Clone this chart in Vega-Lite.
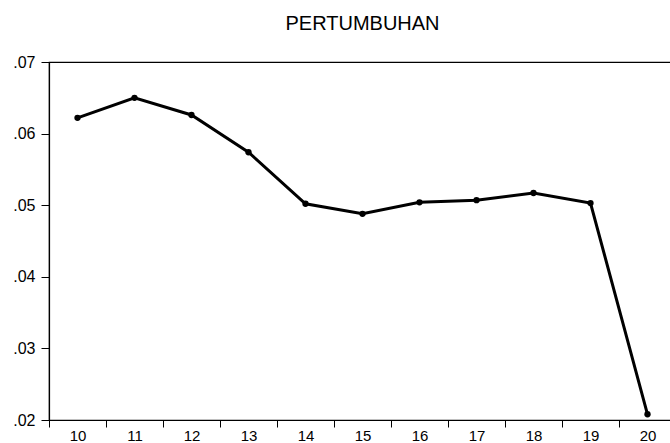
{
  "$schema": "https://vega.github.io/schema/vega-lite/v6.json",
  "autosize": "none",
  "padding": {"left": 49, "top": 62, "right": 0, "bottom": 23},
  "width": 627,
  "height": 358,
  "background": "white",
  "config": {
    "font": "Liberation Sans",
    "view": {"stroke": "black", "strokeWidth": 1.2},
    "axis": {"grid": false, "domainColor": "black", "tickColor": "black", "labelColor": "black", "labelFontSize": 16, "labelFont": "Liberation Sans", "domainWidth": 1.2, "tickWidth": 1}
  },
  "title": {"text": "PERTUMBUHAN", "fontSize": 20, "fontWeight": "normal", "font": "Liberation Sans", "color": "black", "offset": 20, "anchor": "middle"},
  "data": {"values": [
    {"year": 10, "value": 0.0622},
    {"year": 11, "value": 0.0650},
    {"year": 12, "value": 0.0626},
    {"year": 13, "value": 0.0574},
    {"year": 14, "value": 0.0502},
    {"year": 15, "value": 0.0488},
    {"year": 16, "value": 0.0504},
    {"year": 17, "value": 0.0507},
    {"year": 18, "value": 0.0517},
    {"year": 19, "value": 0.0503},
    {"year": 20, "value": 0.0208}
  ]},
  "encoding": {
    "x": {"field": "year", "type": "quantitative", "scale": {"domain": [9.5, 20.5], "nice": false, "zero": false},
      "axis": {"title": null, "values": [9.5, 10.5, 11.5, 12.5, 13.5, 14.5, 15.5, 16.5, 17.5, 18.5, 19.5], "labelExpr": "format(datum.value + 0.5, 'd')", "labelOffset": 28.5, "tickSize": 7, "labelPadding": 1, "labelFontSize": 15, "labelFlush": false, "labelOverlap": false}},
    "y": {"field": "value", "type": "quantitative", "scale": {"domain": [0.02, 0.07], "nice": false, "zero": false},
      "axis": {"title": null, "values": [0.02, 0.03, 0.04, 0.05, 0.06, 0.07], "labelExpr": "replace(format(datum.value, '.2f'), '0.', '.')", "tickSize": 8, "labelPadding": 6, "labelFontSize": 16, "labelFlush": false}}
  },
  "layer": [
    {"mark": {"type": "line", "color": "black", "strokeWidth": 3}},
    {"mark": {"type": "point", "filled": true, "color": "black", "size": 40, "opacity": 1}}
  ]
}
